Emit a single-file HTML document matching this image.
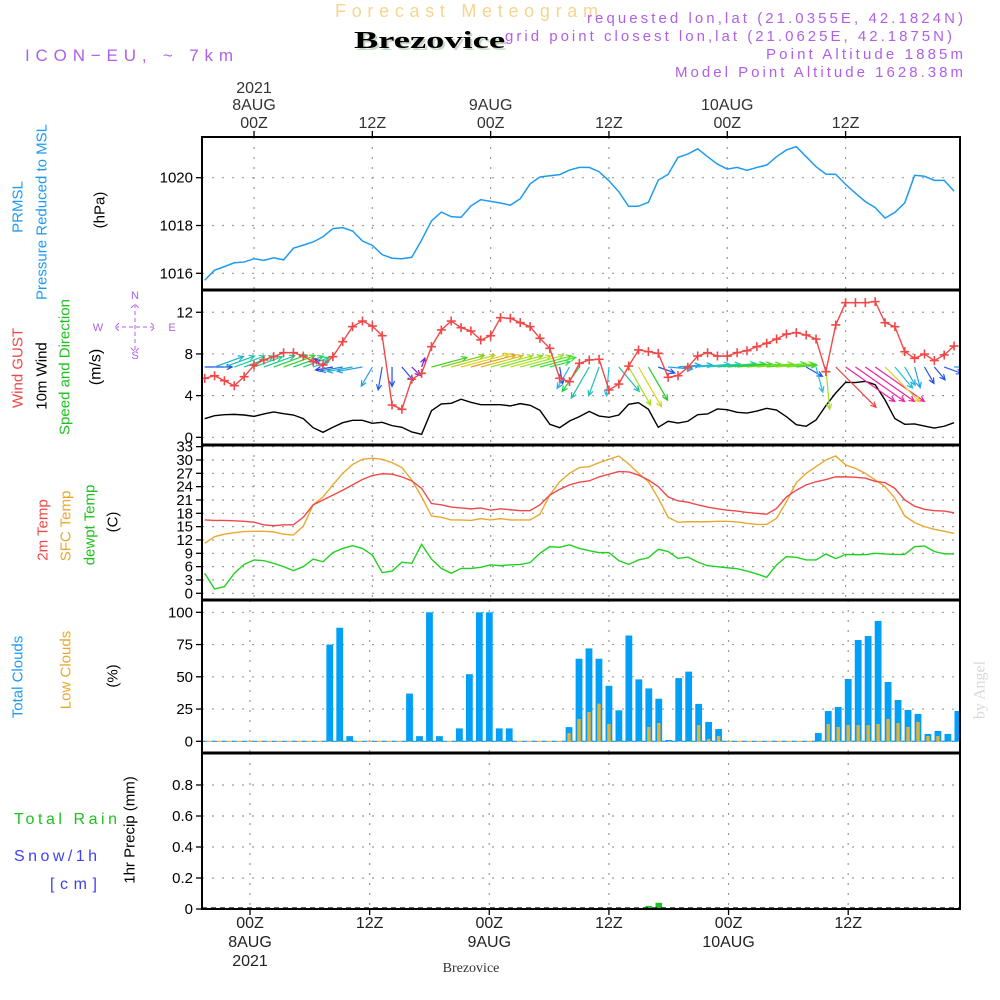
<!DOCTYPE html>
<html><head><meta charset="utf-8"><style>
html,body{margin:0;padding:0;background:#fff;}
svg{display:block;font-family:"Liberation Sans",sans-serif;}
</style></head><body>
<svg id="chart" width="1000" height="1000" viewBox="0 0 1000 1000" xmlns="http://www.w3.org/2000/svg">
<defs>
<clipPath id="cP"><rect x="202" y="137" width="758" height="153"/></clipPath>
<clipPath id="cW"><rect x="202" y="290" width="758" height="155"/></clipPath>
<clipPath id="cT"><rect x="202" y="445" width="758" height="155"/></clipPath>
<clipPath id="cC"><rect x="202" y="600" width="758" height="153"/></clipPath>
<clipPath id="cR"><rect x="202" y="753" width="758" height="156"/></clipPath>
</defs>
<g fill="#b060e8" font-size="15">
<text x="335" y="17" font-size="18" fill="#f5d58f" textLength="263" lengthAdjust="spacing">Forecast Meteogram</text>
<text x="356" y="50" font-family="Liberation Serif,serif" font-weight="bold" font-size="24" fill="#c8d8c8" textLength="151" lengthAdjust="spacingAndGlyphs">Brezovice</text>
<text x="354" y="48" font-family="Liberation Serif,serif" font-weight="bold" font-size="24" fill="#000" textLength="151" lengthAdjust="spacingAndGlyphs">Brezovice</text>
<text x="25" y="61" font-size="17" textLength="208" lengthAdjust="spacing">ICON−EU, ~ 7km</text>
<text x="587" y="23" textLength="376" lengthAdjust="spacing">requested lon,lat (21.0355E, 42.1824N)</text>
<text x="505" y="41" textLength="447" lengthAdjust="spacing">grid point closest lon,lat (21.0625E, 42.1875N)</text>
<text x="766" y="59" textLength="197" lengthAdjust="spacing">Point Altitude 1885m</text>
<text x="675" y="77" textLength="288" lengthAdjust="spacing">Model Point Altitude 1628.38m</text>
</g>
<g id="plots"></g>
<g id="labels" font-size="15"></g>
</svg>
<script>
// ---------- data (hourly, from -5h to +71h relative to 8AUG 00Z) ----------
const hours = [];
for (let h = -5; h <= 71; h++) hours.push(h);
const pressure = [1015.71,1016.13,1016.28,1016.44,1016.47,1016.61,1016.54,1016.65,1016.56,1017.05,1017.18,1017.31,1017.53,1017.87,1017.91,1017.77,1017.35,1017.17,1016.78,1016.63,1016.61,1016.67,1017.39,1018.19,1018.56,1018.37,1018.34,1018.82,1019.08,1019.01,1018.94,1018.85,1019.12,1019.74,1020.03,1020.08,1020.13,1020.32,1020.43,1020.43,1020.25,
1019.87,1019.41,1018.80,1018.81,1018.97,1019.90,1020.14,1020.85,1020.99,1021.21,1020.88,1020.57,1020.36,1020.43,1020.31,1020.43,1020.53,1020.88,1021.16,1021.30,1020.88,1020.46,1020.15,1020.14,1019.72,1019.35,1019.00,1018.75,1018.31,1018.55,1018.95,1020.10,1020.06,1019.89,1019.89,1019.44];
const wind10 = [1.79,2.07,2.17,2.2,2.14,2.01,2.24,2.43,2.27,2.14,1.79,0.92,0.48,0.96,1.40,1.63,1.63,1.34,1.44,1.12,0.96,0.51,0.29,2.55,3.20,3.26,3.65,3.36,3.13,3.13,3.13,3.01,3.23,3.07,2.59,1.25,0.92,1.56,1.98,2.49,2.04,
1.92,2.14,3.17,3.32,2.69,0.96,1.54,1.37,1.54,2.17,2.24,2.72,2.65,2.40,2.33,2.52,2.78,2.62,1.98,1.21,1.06,1.66,3.04,4.25,5.28,5.25,5.37,5.05,3.58,1.79,1.25,1.28,1.08,0.89,1.06,1.40];
const gust = [5.66,5.91,5.43,4.95,5.82,6.91,7.42,7.74,8.12,8.12,7.80,7.26,6.94,7.74,9.18,10.62,11.16,10.68,9.75,3.10,2.69,5.57,6.14,8.70,10.30,11.16,10.52,10.20,9.34,9.75,11.48,11.42,11.0,10.62,9.50,8.54,5.66,5.34,7.10,7.42,7.49,
4.54,5.11,6.84,8.38,8.22,8.06,5.76,5.91,6.72,7.80,8.12,7.80,7.80,8.12,8.31,8.70,9.02,9.43,9.91,10.04,9.82,9.43,6.30,10.78,12.92,12.92,12.92,13.02,11.0,10.62,8.22,7.58,7.99,7.36,7.90,8.76];
const windDir = [270,250,250,250,250,250,250,250,250,250,250,250,135,80,80,80,80,30,10,0,320,315,200,
255,255,255,255,255,255,255,255,255,255,255,255,255,
350,30,35,30,20,5,320,330,330,330,290,275,
265,265,265,265,265,265,265,265,265,265,265,265,265,
300,345,355,315,305,305,305,305,315,320,330,345,330,320,290,270];
const temp2m = [16.5,16.4,16.4,16.3,16.2,16.0,15.4,15.2,15.4,15.4,17.1,19.9,21.0,22.1,23.2,24.4,25.6,26.5,26.9,26.8,26.2,25.3,23.6,20.2,19.9,19.4,19.2,19.0,19.2,18.7,19.0,18.8,18.6,18.6,19.9,22.1,23.4,24.4,25.0,25.3,26.2,
26.8,27.4,27.3,26.6,25.5,24.0,21.7,20.8,20.5,19.9,19.4,19.0,18.7,18.5,18.2,18.0,17.8,19.1,21.7,23.2,24.4,25.1,25.6,26.2,26.2,26.1,25.9,25.2,24.9,23.6,21.0,19.6,18.9,18.6,18.5,18.1];
const tempSfc = [11.25,12.75,13.3,13.65,13.9,13.95,13.95,13.8,13.3,13.1,15.1,19.9,21.7,24.4,27.0,29.0,30.15,30.4,30.15,29.4,28.3,25.5,21.7,17.4,17.1,16.5,16.5,16.4,16.8,16.5,16.8,16.5,16.5,16.5,17.8,22.1,25.1,27.0,28.3,28.5,29.4,
30.15,30.9,29.1,27.0,25.1,21.4,17.1,16.0,16.1,16.1,16.1,16.2,16.2,16.05,15.75,15.5,15.5,16.9,20.6,24.9,27.0,28.5,30.0,30.9,28.9,28.1,27.0,25.5,24.0,21.4,17.4,15.9,15.0,14.4,13.95,13.5];
const dewpt = [4.5,0.97,1.5,4.5,6.5,7.5,7.35,6.75,6.0,5.1,6.0,7.7,7.1,9.15,10.1,10.7,10.1,8.6,4.65,5.0,7.0,6.75,11.0,7.7,5.6,4.5,5.6,5.6,5.85,6.4,6.2,6.4,6.5,6.9,9.0,10.5,10.35,10.9,10.1,9.6,9.15,
9.15,7.35,6.5,7.5,8.0,9.9,9.4,7.85,8.15,7.05,6.2,6.0,5.75,5.55,5.0,4.35,3.6,6.4,8.25,8.1,7.5,7.5,8.85,7.8,8.75,8.7,8.7,9.0,8.85,8.75,8.75,10.5,10.65,9.4,8.9,8.85];
const cloudTotal = [0,0,0,0,0,0,0,0,0,0,0,0,0,75,88,4,0,0,0,0,0,37,4,100,4,0,10,52,100,100,10,10,0,0,0,0,0,11,64,72,64,
43,24,82,48,41,33,1,49,54,29,15,9.5,0,0,0,0,0,0,0,0,0,6.4,23.5,26.6,48.3,78.5,81.6,93.3,46,32,24.3,21.2,5.7,8,5.7,23.5];
const cloudLow = [0,0,0,0,0,0,0,0,0,0,0,0,0,0,0,0,0,0,0,0,0,0,0,0,0,0,0,0,0,0,0,0,0,0,0,0,0,6.4,17.3,22.7,29.2,
13.4,0,0,0,11.1,14.2,0,0,0,12.6,1.8,4.1,0,0,0,0,0,0,0,0,0,0,13.4,11.1,12.6,12.6,12.6,13.4,17.3,14.2,11.1,15.0,4.1,4.1,0,0];
const precip = hours.map(h => 0);
const precipHours = [40, 41];
const precipVals = [0.02, 0.04];
const pTicks = [1016, 1018, 1020];
const wTicks = [0, 4, 8, 12];
const tTicks = [0,3,6,9,12,15,18,21,24,27,30,33];
const cTicks = [0, 25, 50, 75, 100];
const rTicks = [0, 0.2, 0.4, 0.6, 0.8];
const rTickLabels = ["0", "0.2", "0.4", "0.6", "0.8"];
const gridHours = [0, 12, 24, 36, 48, 60];
const timeLabels = ["00Z", "12Z", "00Z", "12Z", "00Z", "12Z"];
const dayLabels = ["8AUG", "", "9AUG", "", "10AUG", ""];

// arrow colours (style only)
const arrowColor = ['#2050f0','#20b0d0','#20c0b0','#20d0a0','#20c0a0','#20d090','#20c8a0','#30d050','#40d030','#20d060','#20d080','#20c8c0',
'#7020e0','#2040f0','#2080e0','#20b0c0','#20a0f0','#20a0f0','#2060f0','#2050f0','#2050f0','#7020e0','#7020e0',
'#40d020','#80d020','#c0d020','#e0d020','#e0a020','#d0c020','#a0e020','#80e020','#c0e020','#a0e040','#60e020','#40e030','#30e050',
'#2050f0','#20b0f0','#20d040','#20c0a0','#20c0b0','#20c0e0','#20c0a0','#a0e020','#e0d020','#20d020','#2050f0','#20a0f0',
'#20a0f0','#20b0e0','#20c0d0','#20c8b0','#20d080','#20d060','#40d020','#60e020','#80e020','#40e030','#a0e020','#60e020','#40d040',
'#2050f0','#20c0e0','#a0e020','#f04040','#f020a0','#f020a0','#f020a0','#f020a0','#e0d020','#20c0e0','#20b0e0','#20a0f0','#2050f0','#2050f0','#4060f0','#20a0f0'];

// ---------- axes ----------
const L = 202, R = 960;
const xT = h => 254 + 9.86 * h;   // top three panels
const xB = h => 250 + 9.97 * h;   // cloud & precip panels
const yP = v => 273.3 - (v - 1016) * 23.9;
const yW = v => 437.3 - v * 10.42;
const yT = v => 593.3 - v * 4.444;
const yC = v => 741.3 - v * 1.29;
const yR = v => 909 - v * 155;
const panels = [[137,290],[290,445],[445,600],[600,753],[753,909]];

const NS = 'http://www.w3.org/2000/svg';
const plots = document.getElementById('plots');
const labels = document.getElementById('labels');
function mk(tag, attrs, parent) {
  const e = document.createElementNS(NS, tag);
  for (const k in attrs) e.setAttribute(k, attrs[k]);
  (parent || plots).appendChild(e);
  return e;
}
function txt(s, x, y, attrs, parent) {
  const e = mk('text', Object.assign({x: x, y: y}, attrs || {}), parent || labels);
  e.textContent = s;
  return e;
}
function rtxt(s, x, y, fill, name, size) {
  const e = mk('text', {x: 0, y: 0, transform: `translate(${x},${y}) rotate(-90)`, 'text-anchor': 'middle', 'dominant-baseline': 'central', fill: fill, 'font-size': size || 15}, labels);
  e.textContent = s;
  
  
  return e;
}

// ---------- grid ----------
const grid = mk('g', {stroke: '#9a9a9a', 'stroke-width': 1.2, 'stroke-dasharray': '2 8'});


function hgrid(ticks, yf) { ticks.forEach(v => { const y = yf(v); mk('line', {x1: L, x2: R, y1: y, y2: y}, grid); }); }
hgrid(pTicks, yP); hgrid(wTicks, yW); hgrid(tTicks, yT); hgrid(cTicks, yC); hgrid(rTicks, yR);
gridHours.forEach(h => {
  [0,1,2].forEach(i => { mk('line', {x1: xT(h), x2: xT(h), y1: panels[i][0], y2: panels[i][1]}, grid); });
  [3,4].forEach(i => { mk('line', {x1: xB(h), x2: xB(h), y1: panels[i][0], y2: panels[i][1]}, grid); });
});

// ---------- pressure ----------
const gP = mk('g', {'clip-path': 'url(#cP)'});
const pLine = mk('polyline', {fill: 'none', stroke: '#1e9bf0', 'stroke-width': 1.5, points: hours.map((h,i) => xT(h) + ',' + yP(pressure[i])).join(' ')}, gP);



// ---------- wind ----------
const gW = mk('g', {'clip-path': 'url(#cW)'});
const wLine = mk('polyline', {fill: 'none', stroke: '#000', 'stroke-width': 1.4, points: hours.map((h,i) => xT(h) + ',' + yW(wind10[i])).join(' ')}, gW);


const arrows = mk('g', {'stroke-width': 1.2, fill: 'none'}, gW);


hours.forEach((h, i) => {
  const t = (windDir[i] + 180) * Math.PI / 180;
  const len = Math.min(60, 6 + 12 * wind10[i]);
  const x0 = xT(h), y0 = 367;
  const dx = Math.sin(t), dy = -Math.cos(t);
  const x1 = x0 + dx * len, y1 = y0 + dy * len;
  const a = Math.atan2(dy, dx), hl = 6;
  const d = `M${x0},${y0}L${x1},${y1}M${x1 - hl*Math.cos(a-0.45)},${y1 - hl*Math.sin(a-0.45)}L${x1},${y1}L${x1 - hl*Math.cos(a+0.45)},${y1 - hl*Math.sin(a+0.45)}`;
  const p = mk('path', {d: d, stroke: arrowColor[i]}, arrows);
  
  
});
const gLine = mk('polyline', {fill: 'none', stroke: '#f04848', 'stroke-width': 1.4, points: hours.map((h,i) => xT(h) + ',' + yW(gust[i])).join(' ')}, gW);


const gMarks = mk('g', {stroke: '#f04848', 'stroke-width': 1.6}, gW);


hours.forEach((h, i) => {
  const x = xT(h), y = yW(gust[i]);
  const m = mk('path', {d: `M${x-4.5},${y}H${x+4.5}M${x},${y-4.5}V${y+4.5}`}, gMarks);
  
  
});

// ---------- temperatures ----------
const gT = mk('g', {'clip-path': 'url(#cT)'});
[[tempSfc,'#e8a830','sfc-temp-line'],[temp2m,'#f04848','2m-temp-line'],[dewpt,'#20d020','dewpoint-line']].forEach(s => {
  const l = mk('polyline', {fill: 'none', stroke: s[1], 'stroke-width': 1.4, points: hours.map((h,i) => xT(h) + ',' + yT(s[0][i])).join(' ')}, gT);
  
  
});

// ---------- clouds ----------
const gC = mk('g', {'clip-path': 'url(#cC)'});
mk('line', {x1: L, x2: R, y1: yC(0), y2: yC(0), stroke: '#1e9bf0', 'stroke-width': 1.2, 'stroke-dasharray': '5 5'}, gC);
mk('line', {x1: L + 5, x2: R, y1: yC(0), y2: yC(0), stroke: '#e8a830', 'stroke-width': 1.2, 'stroke-dasharray': '5 5'}, gC);
hours.forEach((h, i) => {
  if (cloudTotal[i] > 0) {
    const b = mk('rect', {x: xB(h) - 3.4, y: yC(cloudTotal[i]), width: 6.8, height: yC(0) - yC(cloudTotal[i]), fill: '#00a0f8'}, gC);
    
    
  }
  if (cloudLow[i] > 0) {
    const b = mk('rect', {x: xB(h) - 1.7, y: yC(cloudLow[i]), width: 3.4, height: yC(0) - yC(cloudLow[i]), fill: '#e8b030'}, gC);
    
    
  }
});

// ---------- precip ----------
const gR = mk('g', {'clip-path': 'url(#cR)'});
precipHours.forEach((h, k) => { precip[hours.indexOf(h)] = precipVals[k]; });
hours.forEach((h, i) => {
  if (precip[i] > 0) {
    const b = mk('rect', {x: xB(h) - 3.3, y: yR(precip[i]), width: 6.6, height: yR(0) - yR(precip[i]), fill: '#20c020'}, gR);
    
    
  }
});
mk('line', {x1: L, x2: R, y1: 908, y2: 908, stroke: '#000', 'stroke-width': 1.2, 'stroke-dasharray': '5 4'}, gR);

// ---------- frames & ticks ----------
const frame = mk('g', {stroke: '#000', fill: 'none'});


mk('rect', {x: L, y: 137, width: R - L, height: 909 - 137, 'stroke-width': 2}, frame);
[290, 445, 600, 753].forEach(y => mk('line', {x1: L, x2: R, y1: y, y2: y, 'stroke-width': 3}, frame));
function yticks(ticks, yf, lab, name, fs) {
  ticks.forEach((v, k) => {
    const y = yf(v);
    mk('line', {x1: L - 6, x2: L, y1: y, y2: y, 'stroke-width': 1.3}, frame);
    const t = txt(lab ? lab[k] : String(v), L - 9, y + 5, {'text-anchor': 'end', 'font-size': fs || 15});
    
    
  });
}
yticks(pTicks, yP, null, 'pressure-tick-label');
yticks(wTicks, yW, null, 'wind-tick-label');
yticks(tTicks, yT, null, 'temp-tick-label', 15);
yticks(cTicks, yC, null, 'cloud-tick-label');
yticks(rTicks, yR, rTickLabels, 'precip-tick-label');
gridHours.forEach((h, k) => {
  mk('line', {x1: xT(h), x2: xT(h), y1: 131, y2: 137, 'stroke-width': 1.3}, frame);
  mk('line', {x1: xB(h), x2: xB(h), y1: 909, y2: 915, 'stroke-width': 1.3}, frame);
  const a = txt(timeLabels[k], xT(h), 128, {'text-anchor': 'middle', 'font-size': 16, fill: '#333'});
  
  
  const b = txt(timeLabels[k], xB(h), 928, {'text-anchor': 'middle', 'font-size': 16, fill: '#222'});
  
  
  if (dayLabels[k]) {
    const c = txt(dayLabels[k], xT(h), 110, {'text-anchor': 'middle', 'font-size': 16, fill: '#333'});
    
    
    const d = txt(dayLabels[k], xB(h), 947, {'text-anchor': 'middle', 'font-size': 16, fill: '#222'});
    
    
  }
});
const y1 = txt('2021', xT(0), 93, {'text-anchor': 'middle', 'font-size': 16, fill: '#333'});


const y2 = txt('2021', xB(0), 966, {'text-anchor': 'middle', 'font-size': 16, fill: '#222'});


const bn = txt('Brezovice', 471, 972, {'text-anchor': 'middle', 'font-size': 14, 'font-family': 'Liberation Serif,serif', fill: '#333'});



// ---------- panel labels ----------
rtxt('PRMSL', 18, 207, '#1e9bf0', 'prmsl-label');
rtxt('Pressure Reduced to MSL', 42, 212, '#1e9bf0', 'pressure-label');
rtxt('(hPa)', 100, 210, '#000', 'pressure-unit');
rtxt('Wind GUST', 18, 368, '#f04848', 'gust-label');
rtxt('10m Wind', 42, 376, '#000', 'wind10-label');
rtxt('Speed and Direction', 65, 367, '#20c020', 'speed-direction-label');
rtxt('(m/s)', 96, 367, '#000', 'wind-unit', 16);
rtxt('2m Temp', 43, 530, '#f04848', 'temp2m-label');
rtxt('SFC Temp', 66, 526, '#e8a830', 'sfc-temp-label');
rtxt('dewpt Temp', 90, 525, '#20c020', 'dewpt-label');
rtxt('(C)', 113, 522, '#000', 'temp-unit');
rtxt('Total Clouds', 18, 677, '#1e9bf0', 'total-cloud-label');
rtxt('Low Clouds', 66, 670, '#e8a830', 'low-cloud-label');
rtxt('(%)', 113, 676, '#000', 'cloud-unit');
rtxt('1hr Precip (mm)', 130, 830, '#000', 'precip-unit');
rtxt('by Angel', 980, 690, '#d8d8d8', 'credit-label', 16).setAttribute('font-family', 'Liberation Serif,serif');
const tr = txt('Total  Rain', 14, 824, {fill: '#20c020', 'font-size': 16, textLength: 103, lengthAdjust: 'spacing'});


const sn = txt('Snow/1h', 14, 861, {fill: '#4040f0', 'font-size': 16, textLength: 83, lengthAdjust: 'spacing'});


const cm = txt('[cm]', 50, 889, {fill: '#4040f0', 'font-size': 16, textLength: 47, lengthAdjust: 'spacing'});


// compass
const comp = mk('g', {fill: '#b060e8', 'font-size': 11, 'text-anchor': 'middle'}, labels);


txt('N', 135, 299, {}, comp); txt('S', 135, 359, {}, comp);
txt('W', 98, 331, {}, comp); txt('E', 172, 331, {}, comp);
mk('path', {d: 'M135,304V352M115,327H155M119,323L115,327L119,331M151,323L155,327L151,331M131,308L135,304L139,308M131,348L135,352L139,348', stroke: '#b060e8', 'stroke-width': 1, fill: 'none', 'stroke-dasharray': '4 3'}, comp);
</script>
</body></html>
